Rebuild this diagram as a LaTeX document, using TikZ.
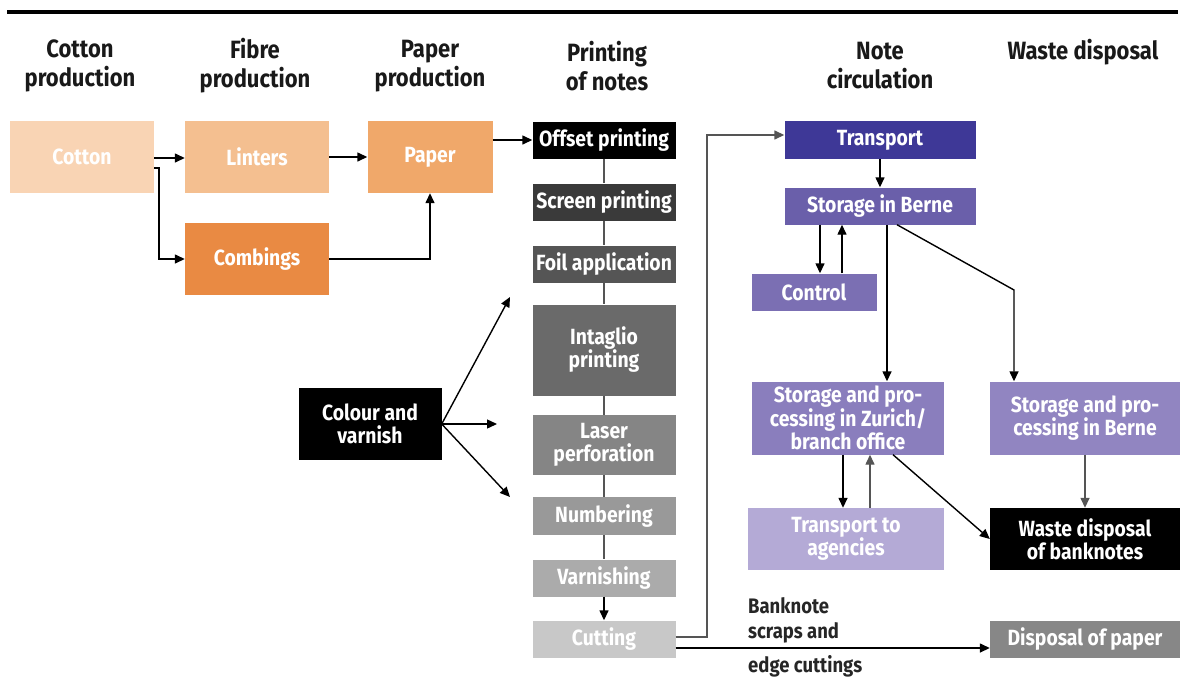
\documentclass[tikz,border=0pt]{standalone}
\usepackage{fontspec}
\setmainfont{Fira Sans}[FakeStretch=0.88]
\usetikzlibrary{arrows.meta,positioning}

\definecolor{cottonc}{HTML}{F9D4B4}
\definecolor{lintersc}{HTML}{F4BF90}
\definecolor{paperc}{HTML}{F0A86A}
\definecolor{combc}{HTML}{E98A43}
\definecolor{screenc}{HTML}{3A3A3A}
\definecolor{foilc}{HTML}{555555}
\definecolor{intagc}{HTML}{6A6A6A}
\definecolor{laserc}{HTML}{858585}
\definecolor{numbc}{HTML}{999999}
\definecolor{varnc}{HTML}{ABABAB}
\definecolor{cutc}{HTML}{C8C8C8}
\definecolor{transc}{HTML}{3E3897}
\definecolor{sbernec}{HTML}{6A5FAA}
\definecolor{controlc}{HTML}{7B6FB3}
\definecolor{zurichc}{HTML}{8A7EBD}
\definecolor{bprocc}{HTML}{9185C1}
\definecolor{agencc}{HTML}{B4AAD6}
\definecolor{dispc}{HTML}{878787}

\begin{document}
\begin{tikzpicture}[x=1pt,y=-1pt,
    box/.style={rectangle, inner sep=1pt, text=white, align=center,
        font=\bfseries\fontsize{22}{23}\selectfont},
    head/.style={align=center, text=black!90, font=\bfseries\fontsize{25}{29}\selectfont},
    lbl/.style={anchor=west, align=left, inner sep=0pt, text=black!85, font=\bfseries\fontsize{21}{25}\selectfont},
    arr/.style={line width=1.4pt, -{Triangle[length=10pt,width=9pt]}},
    ln/.style={line width=1.4pt}]
    \useasboundingbox (0,0) rectangle (1182,680);
    \draw [line width=4.5pt] (7,12) -- (1178,12);
    % headings
    \node[head] (hcotton) at (80,66) {Cotton\\production};
    \node[head] (hfibre) at (255,66) {Fibre\\production};
    \node[head] (hpaper) at (430,66) {Paper\\production};
    \node[head] (hprint) at (607,66) {Printing\\of notes};
    \node[head] (hcirc) at (880,66) {Note\\circulation};
    \node[head] (hwaste) at (1083,52) {Waste disposal};
    % raw material
    \node[box, fill=cottonc, minimum width=144pt, minimum height=72pt] (cotton) at (82,157) {Cotton};
    \node[box, fill=lintersc, minimum width=144pt, minimum height=72pt] (linters) at (257,157) {Linters};
    \node[box, fill=paperc, minimum width=125pt, minimum height=72pt] (paper) at (430,157) {Paper};
    \node[box, fill=combc, minimum width=144pt, minimum height=72pt] (combings) at (257,259) {Combings};
    % printing
    \node[box, fill=black, minimum width=143pt, minimum height=37pt] (offset) at (604,140) {Offset printing};
    \node[box, fill=screenc, minimum width=143pt, minimum height=37pt] (screen) at (604,202) {Screen printing};
    \node[box, fill=foilc, minimum width=143pt, minimum height=37pt] (foil) at (604,264) {Foil application};
    \node[box, fill=intagc, minimum width=143pt, minimum height=91pt] (intaglio) at (604,350) {Intaglio\\printing};
    \node[box, fill=laserc, minimum width=143pt, minimum height=60pt] (laser) at (604,445) {Laser\\perforation};
    \node[box, fill=numbc, minimum width=143pt, minimum height=38pt] (numbering) at (604,516) {Numbering};
    \node[box, fill=varnc, minimum width=143pt, minimum height=37pt] (varnishing) at (604,578) {Varnishing};
    \node[box, fill=cutc, minimum width=143pt, minimum height=37pt] (cutting) at (604,639) {Cutting};
    \node[box, fill=black, minimum width=143pt, minimum height=72pt] (colour) at (370,424) {Colour and\\varnish};
    % circulation
    \node[box, fill=transc, minimum width=191pt, minimum height=38pt] (transport) at (880,140) {Transport};
    \node[box, fill=sbernec, minimum width=191pt, minimum height=37pt] (sberne) at (880,206) {Storage in Berne};
    \node[box, fill=controlc, minimum width=125pt, minimum height=37pt] (control) at (814,292) {Control};
    \node[box, fill=zurichc, minimum width=192pt, minimum height=73pt, font=\bfseries\fontsize{22}{20}\selectfont] (zurich) at (848,418) {Storage and pro-\\cessing in Zurich/\\branch office};
    \node[box, fill=bprocc, minimum width=190pt, minimum height=73pt] (bproc) at (1085,418) {Storage and pro-\\cessing in Berne};
    \node[box, fill=agencc, minimum width=196pt, minimum height=62pt] (agencies) at (846,539) {Transport to\\agencies};
    \node[box, fill=black, minimum width=190pt, minimum height=62pt] (waste) at (1085,539) {Waste disposal\\of banknotes};
    \node[box, fill=dispc, minimum width=190pt, minimum height=37pt] (dpaper) at (1085,639) {Disposal of paper};
    % connectors
    \draw [arr] (cotton.east |- 0,158) -- (linters.west |- 0,158);
    \coordinate (csplit) at (159,168);
    \draw [arr] (cotton.east |- csplit) -- (csplit) |- (combings.west);
    \draw [arr] (linters) -- (paper);
    \draw [arr] (combings.east) -| (paper.south);
    \draw [arr] (paper.east |- offset) -- (offset.west);
    \draw [line width=1.6pt, foilc] (offset) -- (screen) -- (foil) -- (intaglio) -- (laser) -- (numbering) -- (varnishing);
    \draw [arr] (varnishing) -- (cutting);
    \coordinate (cvtop) at (510,297);
    \coordinate (cvmid) at (497,424);
    \coordinate (cvbot) at (510,497);
    \draw [arr] (colour.east) -- (cvtop);
    \draw [arr] (colour.east) -- (cvmid);
    \draw [arr] (colour.east) -- (cvbot);
    \coordinate (cturn) at (707,637);
    \draw [arr, draw=foilc] (cutting.east |- cturn) -- (cturn) |- ([yshift=5pt]transport.west);
    \draw [arr] (cutting.east |- 0,648) -- (dpaper.west |- 0,648);
    \node[lbl] (scraps) at (748,620) {Banknote\\scraps and};
    \node[lbl] (edge) at (748,666) {edge cuttings};
    \draw [arr] (transport) -- (sberne);
    \draw [arr] (sberne.south -| 820,0) -- (control.north -| 820,0);
    \draw [arr] (control.north -| 842,0) -- (sberne.south -| 842,0);
    \draw [arr] (sberne.south -| 887,0) -- (zurich.north -| 887,0);
    \coordinate (bbend) at (1014,290);
    \draw [arr] (sberne.south -| 897,0) -- (bbend) -- (bproc.north -| bbend);
    \draw [arr] (zurich.south -| 843,0) -- (agencies.north -| 843,0);
    \draw [arr, draw=foilc] (agencies.north -| 870,0) -- (zurich.south -| 870,0);
    \draw [arr] (zurich.south -| 893,0) -- (waste.west);
    \draw [arr, draw=foilc] (bproc) -- (waste);
\end{tikzpicture}
\end{document}
